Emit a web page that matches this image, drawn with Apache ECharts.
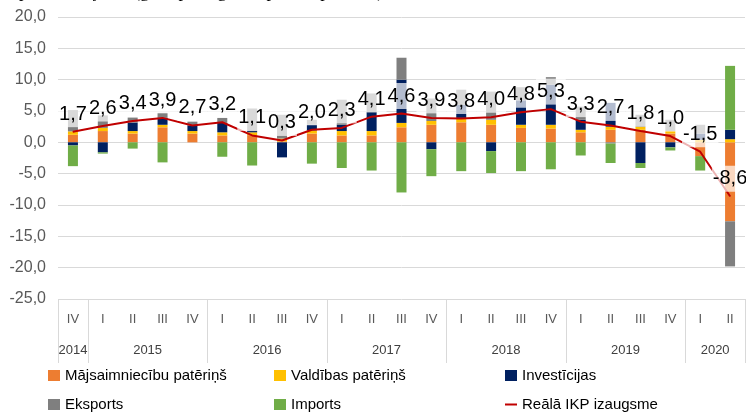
<!DOCTYPE html>
<html>
<head>
<meta charset="utf-8">
<script src="https://cdn.jsdelivr.net/npm/echarts@6/dist/echarts.min.js"></script>
<style>
  html, body { margin: 0; padding: 0; background: #fff; }
  #chart { width: 746px; height: 414px; }
</style>
</head>
<body>
<div id="chart"></div>
<script>
// 数据
var quarters = ['IV', 'I', 'II', 'III', 'IV', 'I', 'II', 'III', 'IV', 'I', 'II', 'III', 'IV', 'I', 'II', 'III', 'IV', 'I', 'II', 'III', 'IV', 'I', 'II'];
var years = ['2014', '2015', '2016', '2017', '2018', '2019', '2020'];
var quartersPerYear = [1, 4, 4, 4, 4, 4, 2];
var households = [1.2, 1.8, 1.4, 2.4, 1.4, 1.1, 1.15, 0.15, 1.4, 1.1, 1.1, 2.4, 2.8, 3.2, 2.8, 2.3, 2.2, 1.6, 2.0, 2.0, 1.4, -2.2, -12.6];
var government = [0.55, 0.5, 0.4, 0.4, 0.4, 0.5, 0.45, 0.45, 0.5, 0.7, 0.7, 0.7, 0.6, 0.7, 0.8, 0.5, 0.6, 0.4, 0.5, 0.5, 0.4, 0.4, 0.5];
var investment = [-0.5, -1.6, 1.35, 1.1, 0.9, 1.5, 0.2, -2.4, 0.9, 1.0, 3.0, 6.9, -1.1, 2.1, -1.4, 3.9, 6.4, 1.6, 3.8, -3.3, -0.8, 1.0, 1.5];
var exportData = [3.4, 2.0, 0.8, 0.8, 0.6, 0.8, 3.6, 3.8, 0.8, 4.0, 3.0, 3.5, 3.6, 2.4, 4.5, 2.1, 1.2, 2.1, -0.2, 1.9, 1.8, 1.4, -7.2];
var importData = [-3.3, -0.2, -1.0, -3.2, 0, -2.3, -3.7, 0, -3.4, -4.1, -4.5, -8.0, -4.3, -4.6, -3.5, -4.6, -4.3, -2.1, -3.1, -0.8, -0.5, -2.3, 10.2];
var gdpGrowth = [1.7, 2.6, 3.4, 3.9, 2.7, 3.2, 1.1, 0.3, 2.0, 2.3, 4.1, 4.6, 3.9, 3.8, 4.0, 4.8, 5.3, 3.3, 2.7, 1.8, 1.0, -1.5, -8.6];

// 年份分隔线和年份标签的位置（按季度数累加）
var yearEdges = [0];
var yearCenters = [];
quartersPerYear.forEach(function (n, i) {
  yearCenters.push(yearEdges[i] + n / 2);
  yearEdges.push(yearEdges[i] + n);
});

function comma(v) {
  return v.toFixed(1).replace('.', ',');
}

var font = '"Liberation Sans", Arial, sans-serif';
var narrow = '"Liberation Sans Narrow", "Liberation Sans", Arial, sans-serif';

function barSeries(name, data, color) {
  return {
    name: name,
    type: 'bar',
    stack: 'total',
    barWidth: 10,
    data: data,
    itemStyle: { color: color }
  };
}

function legendCol(left, items) {
  return {
    left: left,
    top: 368,
    padding: 0,
    orient: 'vertical',
    itemGap: 14,
    itemWidth: 12,
    itemHeight: 11,
    textStyle: { fontFamily: font, fontSize: 15, color: '#000' },
    data: items
  };
}

var myChart = echarts.init(document.getElementById('chart'));
var option = {
  animation: false,
  title: {
    text: 'pēc izlietojuma (gada pieaugumā, procentpunktos)',
    left: 14,
    top: -22,
    textStyle: { fontFamily: '"Liberation Serif", serif', fontSize: 18, fontWeight: 'normal', color: '#000' }
  },
  grid: { left: 58, right: 1, top: 17, bottom: 115 },
  legend: [
    legendCol(48, [{ name: 'Mājsaimniecību patēriņš', icon: 'rect' }, { name: 'Eksports', icon: 'rect' }]),
    legendCol(274, [{ name: 'Valdības patēriņš', icon: 'rect' }, { name: 'Imports', icon: 'rect' }]),
    // 折线图例只要线，不要圆点
    legendCol(504, [{ name: 'Investīcijas', icon: 'rect' },
      { name: 'Reālā IKP izaugsme', itemStyle: { color: 'rgba(0,0,0,0)', borderWidth: 0 } }])
  ],
  xAxis: [
    {
      type: 'category',
      data: quarters,
      axisLine: { show: false },
      axisTick: { show: false },
      axisLabel: { color: '#595959', fontFamily: narrow, fontSize: 13, margin: 14 }
    },
    {
      // 年份一行 + 分隔线
      type: 'value',
      min: 0,
      max: quarters.length,
      position: 'bottom',
      axisLine: { show: false },
      splitLine: { show: false },
      axisTick: {
        customValues: yearEdges,
        length: 64,
        lineStyle: { color: '#d9d9d9' }
      },
      axisLabel: {
        customValues: yearCenters,
        margin: 45,
        color: '#404040',
        fontFamily: narrow,
        fontSize: 13,
        formatter: function (v) {
          return years[yearCenters.indexOf(v)];
        }
      }
    }
  ],
  yAxis: {
    type: 'value',
    min: -25,
    max: 20,
    interval: 5,
    axisLine: { show: false },
    axisTick: { show: false },
    axisLabel: { color: '#595959', fontFamily: font, fontSize: 16, margin: 12, formatter: comma },
    splitLine: { lineStyle: { color: '#d9d9d9', width: 1 } }
  },
  series: [
    barSeries('Mājsaimniecību patēriņš', households, '#ed7d31'),
    barSeries('Valdības patēriņš', government, '#ffc000'),
    barSeries('Investīcijas', investment, '#002060'),
    barSeries('Eksports', exportData, '#7f7f7f'),
    barSeries('Imports', importData, '#70ad47'),
    {
      name: 'Reālā IKP izaugsme',
      type: 'line',
      z: 5,
      data: gdpGrowth,
      symbol: 'circle',
      symbolSize: 1,
      showSymbol: true,
      lineStyle: { color: '#c00000', width: 2 },
      itemStyle: { color: '#c00000' },
      label: {
        show: true,
        position: 'top',
        distance: 4,
        color: '#000',
        fontFamily: font,
        fontSize: 20,
        lineHeight: 20,
        padding: [3, 1, 3, 1],
        backgroundColor: 'rgba(255,255,255,0.7)',
        formatter: function (p) { return comma(p.value); }
      }
    }
  ]
};
myChart.setOption(option);
</script>
</body>
</html>
